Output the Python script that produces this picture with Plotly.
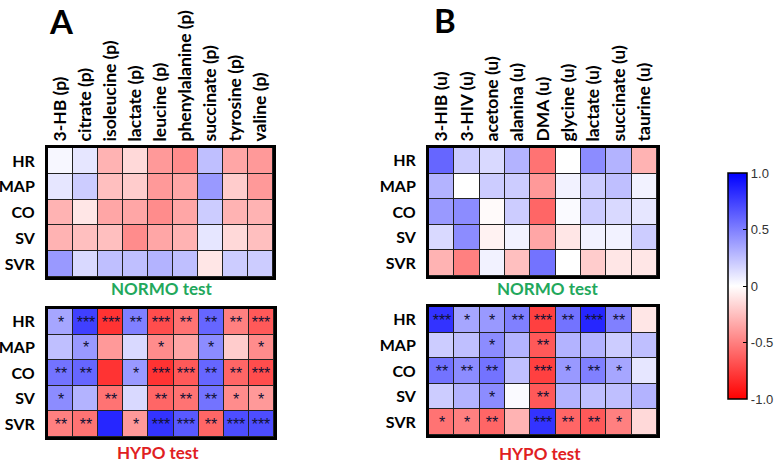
import plotly.graph_objects as go

rows = ["HR", "MAP", "CO", "SV", "SVR"]
cols_a = ["3-HB (p)", "citrate (p)", "isoleucine (p)", "lactate (p)", "leucine (p)",
          "phenylalanine (p)", "succinate (p)", "tyrosine (p)", "valine (p)"]
cols_b = ["3-HIB (u)", "3-HIV (u)", "acetone (u)", "alanina (u)", "DMA (u)",
          "glycine (u)", "lactate (u)", "succinate (u)", "taurine (u)"]

a_normo = [
    [0.03, 0.10, -0.30, -0.15, -0.40, -0.45, 0.25, -0.35, -0.40],
    [0.10, 0.20, -0.25, -0.20, -0.40, -0.35, 0.40, -0.20, -0.40],
    [-0.30, -0.10, -0.35, -0.35, -0.45, -0.35, 0.20, -0.30, -0.30],
    [-0.30, -0.25, -0.25, -0.45, -0.35, -0.30, 0.10, -0.15, -0.25],
    [0.40, 0.15, 0.25, 0.25, 0.30, 0.25, -0.10, 0.20, 0.20],
]
a_hypo = [
    [0.35, 0.75, -0.80, 0.50, -0.70, -0.55, 0.60, -0.50, -0.65],
    [0.25, 0.40, -0.40, 0.15, -0.45, -0.35, 0.45, -0.20, -0.45],
    [0.55, 0.60, -0.80, 0.40, -0.80, -0.65, 0.60, -0.60, -0.70],
    [0.45, 0.30, -0.55, 0.15, -0.60, -0.55, 0.55, -0.45, -0.40],
    [-0.50, -0.55, 0.85, -0.40, 0.80, 0.65, -0.60, 0.70, 0.70],
]
a_hypo_sig = [
    ["*", "***", "***", "**", "***", "**", "**", "**", "***"],
    ["", "*", "", "", "*", "", "*", "", "*"],
    ["**", "**", "", "*", "***", "***", "**", "**", "***"],
    ["*", "", "**", "", "**", "**", "**", "*", "*"],
    ["**", "**", "", "*", "***", "***", "**", "***", "***"],
]
b_normo = [
    [0.60, 0.20, 0.15, 0.30, -0.55, 0.00, 0.45, 0.30, -0.30],
    [0.30, 0.00, 0.20, 0.20, -0.40, 0.05, 0.20, 0.25, 0.05],
    [0.40, 0.45, -0.02, 0.20, -0.60, 0.02, 0.20, 0.15, 0.10],
    [0.15, 0.45, -0.05, 0.05, -0.35, -0.10, 0.05, 0.05, 0.20],
    [-0.30, -0.50, 0.05, -0.25, 0.55, 0.00, -0.20, -0.10, -0.10],
]
b_hypo = [
    [0.80, 0.35, 0.40, 0.50, -0.75, 0.55, 0.85, 0.50, -0.10],
    [0.20, 0.25, 0.45, 0.30, -0.65, 0.30, 0.30, 0.20, 0.25],
    [0.55, 0.45, 0.55, 0.25, -0.75, 0.40, 0.50, 0.35, 0.10],
    [0.20, 0.30, 0.45, 0.02, -0.65, 0.30, 0.25, 0.25, 0.30],
    [-0.55, -0.50, -0.60, -0.30, 0.80, -0.60, -0.65, -0.50, -0.15],
]
b_hypo_sig = [
    ["***", "*", "*", "**", "***", "**", "***", "**", ""],
    ["", "", "*", "", "**", "", "", "", ""],
    ["**", "**", "**", "", "***", "*", "**", "*", ""],
    ["", "", "*", "", "**", "", "", "", ""],
    ["*", "*", "**", "", "***", "**", "**", "*", ""],
]
cbar_vals = [-1.0, -0.5, 0, 0.5, 1.0]
cbar_text = ["-1.0", "-0.5", "0", "0.5", "1.0"]

W, H = 776, 465
scale = [[0, "#FF0000"], [0.5, "#FFFFFF"], [1, "#0000FF"]]
FONT = "Lato"


def px_x(v):
    return v / W


def px_y(v):
    return 1 - v / H


fig = go.Figure()

panels = [
    ("x", "y", cols_a, a_normo, None, (48, 273), (148, 277), True),
    ("x2", "y2", cols_a, a_hypo, a_hypo_sig, (48, 274), (309, 437), False),
    ("x3", "y3", cols_b, b_normo, None, (429, 657), (148, 276), True),
    ("x4", "y4", cols_b, b_hypo, b_hypo_sig, (429, 657), (307, 435), False),
]

for i, (xa, ya, cols, z, sig, xr, yr, top) in enumerate(panels):
    tr = dict(
        z=z, x=cols, y=rows, xaxis=xa, yaxis=ya,
        colorscale=scale, zmin=-1, zmax=1, xgap=1, ygap=1,
        showscale=(i == 0), hoverinfo="skip",
    )
    if sig is not None:
        tr["text"] = sig
        tr["texttemplate"] = "%{text}"
        tr["textfont"] = dict(family="Arial", size=16, color="#111133")
    if i == 0:
        tr["colorbar"] = dict(
            x=px_x(728), xanchor="left", y=px_y(286), yanchor="middle",
            xpad=0, ypad=0,
            lenmode="pixels", len=226, thickness=19, thicknessmode="pixels",
            outlinewidth=1.5, outlinecolor="black",
            tickvals=cbar_vals, ticktext=cbar_text, ticks="inside",
            ticklen=4, tickcolor="black",
            tickfont=dict(family="Arial", size=13, color="#333"),
        )
    fig.add_trace(go.Heatmap(**tr))
    n = "" if i == 0 else str(i + 1)
    fig.update_layout({
        "xaxis" + n: dict(
            domain=[px_x(xr[0]), px_x(xr[1])], anchor=ya,
            side="top", tickangle=-90, showticklabels=top,
            tickfont=dict(family=FONT, size=17.5, color="black", weight="bold"),
            ticks="", showline=True, mirror=True, linewidth=3, linecolor="black",
            showgrid=False, zeroline=False, ticklabelstandoff=0, automargin=False,
        ),
        "yaxis" + n: dict(
            domain=[px_y(yr[1]), px_y(yr[0])], anchor=xa,
            autorange="reversed",
            tickfont=dict(family=FONT, size=16, color="black", weight="bold"),
            ticks="", showline=True, mirror=True, linewidth=3, linecolor="black",
            showgrid=False, zeroline=False, ticklabelstandoff=7, automargin=False,
        ),
    })

ann = [
    dict(text="A", x=px_x(62), y=px_y(21), size=33, color="black"),
    dict(text="B", x=px_x(445), y=px_y(20), size=33, color="black"),
    dict(text="NORMO test", x=px_x(162), y=px_y(288), size=17, color="#22A85C"),
    dict(text="HYPO test", x=px_x(158), y=px_y(452), size=17, color="#E0201F"),
    dict(text="NORMO test", x=px_x(548), y=px_y(288), size=17, color="#22A85C"),
    dict(text="HYPO test", x=px_x(540), y=px_y(453), size=17, color="#E0201F"),
]
for a in ann:
    fig.add_annotation(
        text=a["text"], x=a["x"], y=a["y"], xref="paper", yref="paper",
        xanchor="center", yanchor="middle", showarrow=False,
        font=dict(family=FONT, size=a["size"], color=a["color"], weight="bold"),
    )

fig.update_layout(
    width=W, height=H, margin=dict(l=0, r=0, t=0, b=0, autoexpand=False),
    paper_bgcolor="white", plot_bgcolor="#222222",
    showlegend=False,
)

fig.write_html(
    "out.html",
    config={"displayModeBar": False},
    post_script="document.body.style.margin='0';document.body.style.overflow='hidden';",
)
